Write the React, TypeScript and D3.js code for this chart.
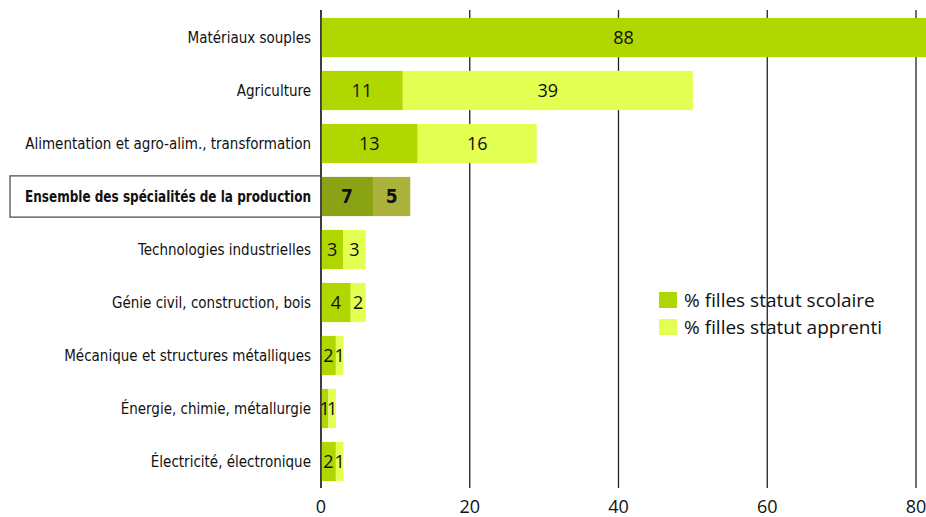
import * as d3 from "d3";
import * as React from "react";

const categories = [
    "Matériaux souples",
    "Agriculture",
    "Alimentation et agro-alim., transformation",
    "Ensemble des spécialités de la production",
    "Technologies industrielles",
    "Génie civil, construction, bois",
    "Mécanique et structures métalliques",
    "Énergie, chimie, métallurgie",
    "Électricité, électronique",
];
const scolaire = [88, 11, 13, 7, 3, 4, 2, 1, 2];
const apprenti = [0, 39, 16, 5, 3, 2, 1, 1, 1];
const ticks = [0, 20, 40, 60, 80];
const seriesNames = ["% filles statut scolaire", "% filles statut apprenti"];
const highlight = "Ensemble des spécialités de la production";

const W = 926;
const H = 517;
const labelFont = "'Liberation Sans Narrow', 'DejaVu Sans Condensed', sans-serif";
const numFont = "'Open Sans', 'Noto Sans', sans-serif";

export default function App(): JSX.Element {
    const x = d3.scaleLinear().domain([0, 80]).range([321, 916]);
    const y = d3.scaleBand<string>().domain(categories).range([11, 488]).paddingInner(0.26).paddingOuter(0.13);

    const colours = ["#b0d800", "#e2ff52"];
    const hiColours = ["#8aa314", "#aab23c"];

    return (
        <svg width={W} height={H} style={{ position: "absolute", left: 0, top: 0 }}>
            <rect width={W} height={H} fill="#fff" />
            {ticks.map(t => (
                <g key={t}>
                    <line x1={x(t)} x2={x(t)} y1={10} y2={488} stroke="#222" strokeWidth={1.3} />
                    <text x={x(t)} y={513} textAnchor="middle" fontFamily={numFont} fontSize={18} fill="#111">{t}</text>
                </g>
            ))}
            {categories.map((c, i) => {
                const y0 = y(c)!;
                const bh = y.bandwidth();
                const hi = c === highlight;
                const segs = [
                    { v: scolaire[i], start: 0 },
                    { v: apprenti[i], start: scolaire[i] },
                ];
                return (
                    <g key={c}>
                        {hi && (
                            <rect x={10} y={y0 - 1} width={311} height={bh + 2} fill="#fff" stroke="#444" strokeWidth={1.2} />
                        )}
                        {segs.map((s, k) => s.v > 0 && (
                            <g key={k}>
                                <rect x={x(s.start)} y={y0} width={x(s.start + s.v) - x(s.start)} height={bh}
                                    fill={hi ? hiColours[k] : colours[k]} />
                                <text x={Math.min((x(s.start) + x(s.start + s.v)) / 2, (x(0) + W) / 2)}
                                    y={y0 + bh / 2} dy="0.36em" textAnchor="middle"
                                    fontFamily={hi ? labelFont : numFont} fontWeight={hi ? "bold" : "normal"}
                                    fontSize={hi ? 19 : 18} fill="#111">{s.v}</text>
                            </g>
                        ))}
                        <text x={311} y={y0 + bh / 2} dy="0.35em" textAnchor="end"
                            fontFamily={labelFont} fontSize={15} fontWeight={hi ? "bold" : "normal"} fill="#111"
                            {...(hi ? { textLength: 286, lengthAdjust: "spacingAndGlyphs" } : {})}>{c}</text>
                    </g>
                );
            })}
            <line x1={x(0)} x2={x(0)} y1={10} y2={488} stroke="#222" strokeWidth={1.3} />
            {seriesNames.map((s, k) => (
                <g key={s} transform={`translate(659,${292 + k * 27})`}>
                    <rect width={18} height={16} fill={colours[k]} />
                    <text x={25} y={8} dy="0.35em" fontFamily={numFont} fontSize={19} fill="#111">{s}</text>
                </g>
            ))}
        </svg>
    );
}
